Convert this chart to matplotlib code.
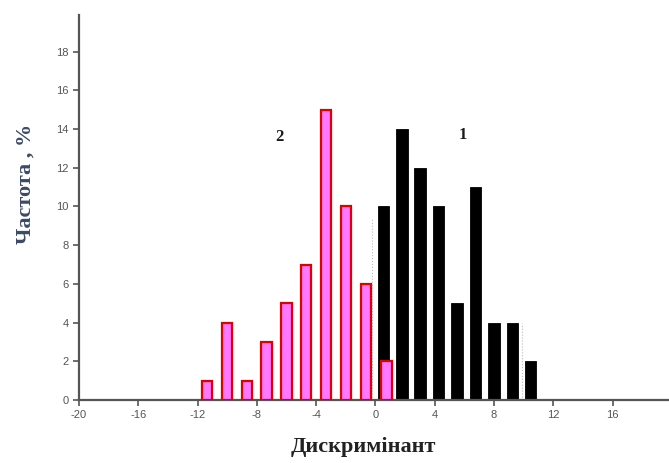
import matplotlib
matplotlib.use("Agg")
import matplotlib.pyplot as plt

# Group 2 (pink) and group 1 (black) discriminant histograms
group2_x = [-11.38, -10.03, -8.68, -7.36, -6.01, -4.67, -3.32, -1.97, -0.65, 0.74]
group2_pct = [1, 4, 1, 3, 5, 7, 15, 10, 6, 2]
group1_x = [0.55, 1.78, 3.02, 4.26, 5.49, 6.75, 7.99, 9.25, 10.47]
group1_pct = [10, 14, 12, 10, 5, 11, 4, 4, 2]

x_ticks = [-20, -16, -12, -8, -4, 0, 4, 8, 12, 16]
y_ticks = [0, 2, 4, 6, 8, 10, 12, 14, 16, 18]

fig = plt.figure(figsize=(6.69, 4.63), dpi=100)
ax = fig.add_axes([0.118, 0.136, 0.882, 0.832])

ax.bar(group1_x, group1_pct, width=0.78, color="black", edgecolor="black",
       linewidth=0.6, zorder=2)
ax.bar(group2_x, group2_pct, width=0.70, color="#ff78ff", edgecolor="#e00000",
       linewidth=1.6, zorder=3)

# faint dotted guides
ax.plot([-0.2, -0.2], [0, 9.4], color="#bbbbbb", lw=0.8, ls=":", zorder=1)
ax.plot([9.9, 9.9], [0, 4.0], color="#bbbbbb", lw=0.8, ls=":", zorder=1)

ax.set_xlim(-20, 19.8)
ax.set_ylim(0, 19.9)
ax.set_xticks(x_ticks)
ax.set_yticks(y_ticks)
ax.set_xticklabels([str(v) for v in x_ticks])
ax.set_yticklabels([str(v) for v in y_ticks])

for s in ("top", "right"):
    ax.spines[s].set_visible(False)
for s in ("left", "bottom"):
    ax.spines[s].set_color("#555555")
    ax.spines[s].set_linewidth(1.6)
ax.tick_params(axis="both", colors="#555555", labelsize=8, length=4, width=1.2,
               direction="out")
for lbl in ax.get_xticklabels() + ax.get_yticklabels():
    lbl.set_family("Liberation Sans")
    lbl.set_color("#555555")

ax.text(-6.5, 13.6, "2", fontsize=12, fontweight="bold", family="Liberation Serif",
        ha="center", va="center", color="#1a1a1a")
ax.text(5.9, 13.7, "1", fontsize=12, fontweight="bold", family="Liberation Serif",
        ha="center", va="center", color="#1a1a1a")

fig.text(0.038, 0.603, "Частота , %", rotation=90, fontsize=16, fontweight="bold",
         family="Liberation Serif", color="#3b4a66", ha="center", va="center")
fig.text(0.543, 0.035, "Дискримінант", fontsize=16, fontweight="bold",
         family="Liberation Serif", color="#222222", ha="center", va="center")

fig.savefig("out.png", dpi=100)
